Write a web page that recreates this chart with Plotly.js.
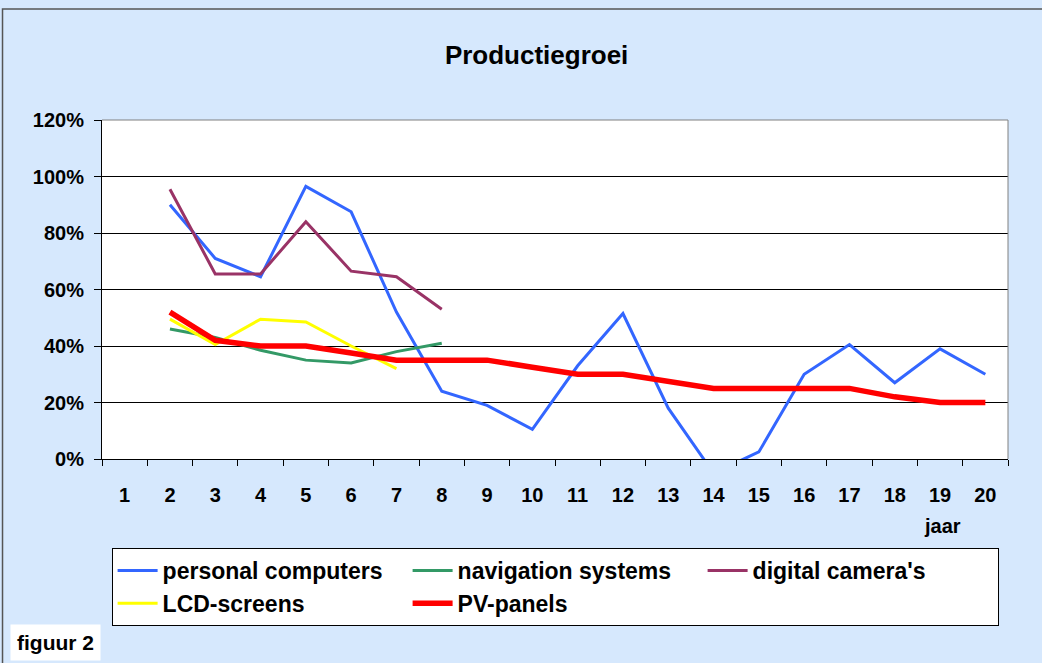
<!DOCTYPE html>
<html>
<head>
<meta charset="utf-8">
<script src="https://cdn.plot.ly/plotly-3.0.1.min.js"></script>
<style>html,body{margin:0;padding:0;background:#d6e8fd;}#chart{width:1042px;height:663px;}</style>
</head>
<body>
<div id="chart"></div>
<script>
const years = ["1","2","3","4","5","6","7","8","9","10","11","12","13","14","15","16","17","18","19","20"];
const personalComputers = [null,90,71,64.5,96.5,87.5,52,24,19,10.5,33,51.5,18,-5,2.5,30,40.5,27,39,30];
const navigationSystems = [null,46,43,38.5,35,34,38,41];
const digitalCameras = [null,95.5,65.5,65.5,84,66.5,64.5,53];
const lcdScreens = [null,49.5,40.5,49.5,48.5,40,32];
const pvPanels = [null,52,42,40,40,37.5,35,35,35,32.5,30,30,27.5,25,25,25,25,22,20,20];

const names = ["personal computers","navigation systems","digital camera's","LCD-screens","PV-panels"];
const colors = ["#3366ff","#339966","#993366","#ffff00","#ff0000"];
const widths = [3,3,3,3,5.5];
const series = [personalComputers,navigationSystems,digitalCameras,lcdScreens,pvPanels];

const font = "Liberation Sans, Arial, sans-serif";
const traces = series.map((s,i)=>({
  type:"scatter", mode:"lines", name:names[i],
  x: years.slice(0,s.length), y:s,
  line:{color:colors[i], width:widths[i]},
  connectgaps:false, hoverinfo:"skip"
}));

const layout = {
  width:1042, height:663,
  paper_bgcolor:"#d6e8fd", plot_bgcolor:"#ffffff",
  margin:{l:102, r:34, t:120, b:204},
  font:{family:font, color:"#000", size:20},
  title:{text:"<b>Productiegroei</b>", font:{family:font, size:26, color:"#000"},
         x:0.515, xanchor:"center", y:1-55/663, yanchor:"middle", yref:"container"},
  xaxis:{type:"category", categoryorder:"array", categoryarray:years,
         range:[-0.5,19.5], showgrid:false, showline:true, linecolor:"#000", linewidth:1,
         ticks:"outside", tickson:"boundaries", ticklen:6, tickcolor:"#000",
         tickfont:{family:font, size:20, color:"#000", weight:"bold"},
         ticklabelstandoff:18, zeroline:false, fixedrange:true},
  yaxis:{range:[0,120], dtick:20, ticksuffix:"%", showgrid:true, gridcolor:"#000", gridwidth:1,
         showline:true, linecolor:"#000", linewidth:1, ticks:"outside", ticklen:7, tickcolor:"#000",
         tickfont:{family:font, size:20, color:"#000", weight:"bold"},
         ticklabelstandoff:6, zeroline:false, fixedrange:true},
  showlegend:true,
  legend:{orientation:"h", x:0.0106, xanchor:"left", y:(459-548)/339, yanchor:"top",
          bgcolor:"#ffffff", bordercolor:"#000", borderwidth:1,
          font:{family:font, size:23, color:"#000", weight:"bold"},
          entrywidth:240, entrywidthmode:"pixels", traceorder:"normal", itemwidth:40,
          tracegroupgap:0},
  shapes:[
    {type:"line", xref:"paper", yref:"paper", x0:0, x1:1, y0:1, y1:1, line:{color:"#808080", width:1}},
    {type:"line", xref:"paper", yref:"paper", x0:1, x1:1, y0:0, y1:1, line:{color:"#808080", width:1}},
    {type:"rect", xref:"paper", yref:"paper", x0:(3-102.4)/905.2, x1:(1060-102.4)/905.2,
     y0:(459-680)/339, y1:(459-9)/339, line:{color:"#555", width:1.5}, layer:"below"}
  ],
  annotations:[
    {text:"<b>jaar</b>", xref:"paper", yref:"paper", x:(942-102.4)/905.2, y:(459-526)/339,
     showarrow:false, font:{family:font, size:20, color:"#000"}, xanchor:"center", yanchor:"middle"},
    {text:"<b>figuur 2</b>", xref:"paper", yref:"paper", x:(10-102.4)/905.2, y:(459-642)/339,
     showarrow:false, font:{family:font, size:21, color:"#000"}, xanchor:"left", yanchor:"middle",
     bgcolor:"#ffffff", borderpad:6}
  ]
};

Plotly.newPlot("chart", traces, layout, {displayModeBar:false, staticPlot:true});
</script>
</body>
</html>
